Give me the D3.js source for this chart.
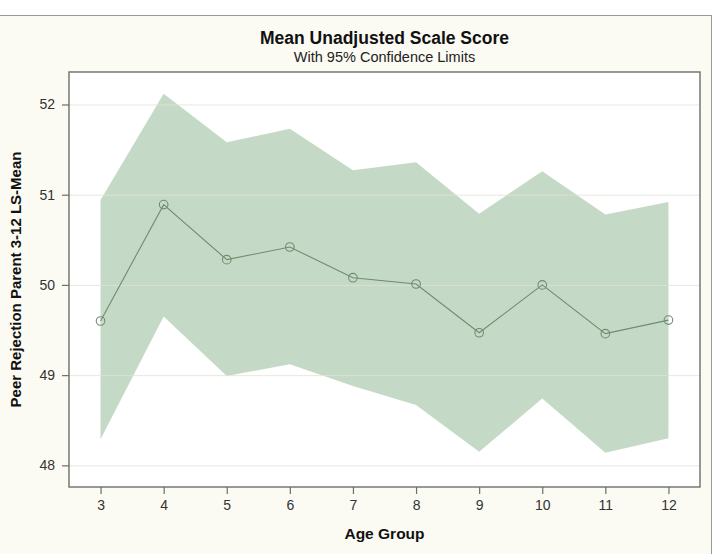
<!DOCTYPE html>
<html>
<head>
<meta charset="utf-8">
<script src="https://cdn.jsdelivr.net/npm/d3@7"></script>
<style>
  body { margin: 0; background: #fff; }
  svg text { font-family: "Liberation Sans", Arial, sans-serif; }
</style>
</head>
<body>
<svg id="chart" width="714" height="554"></svg>
<script>
// 年齢グループ
var ageGroups = [3, 4, 5, 6, 7, 8, 9, 10, 11, 12];
// LS平均値
var meanValues = [49.60, 50.89, 50.28, 50.42, 50.08, 50.01, 49.47, 50.00, 49.46, 49.61];
// 95%信頼区間 上限・下限
var upperValues = [50.94, 52.12, 51.58, 51.73, 51.27, 51.36, 50.79, 51.26, 50.78, 50.92];
var lowerValues = [48.29, 49.65, 48.99, 49.12, 48.88, 48.67, 48.15, 48.74, 48.14, 48.30];
var yTicks = [48, 49, 50, 51, 52];

var svg = d3.select("#chart");
var plot = { left: 69, right: 700, top: 72, bottom: 487 };

// 外枠
svg.append("rect")
  .attr("x", -1).attr("y", 15.5)
  .attr("width", 712.5).attr("height", 560)
  .attr("fill", "#fbfbf3")
  .attr("stroke", "#9a9a94");

svg.append("rect")
  .attr("x", plot.left).attr("y", plot.top)
  .attr("width", plot.right - plot.left).attr("height", plot.bottom - plot.top)
  .attr("fill", "#ffffff");

var xScale = d3.scaleLinear().domain([2.5, 12.5]).range([plot.left, plot.right]);
var yScale = d3.scaleLinear().domain([47.76, 52.36]).range([plot.bottom, plot.top]);

var rows = ageGroups.map((a, i) => ({
  age: a, mean: meanValues[i], upper: upperValues[i], lower: lowerValues[i]
}));

// 信頼区間の帯
var band = d3.area()
  .x((d) => xScale(d.age))
  .y0((d) => yScale(d.lower))
  .y1((d) => yScale(d.upper));
svg.append("path").datum(rows)
  .attr("d", band)
  .attr("fill", "#c5dac6");

// グリッド線
svg.append("g").selectAll("line")
  .data(yTicks).enter().append("line")
  .attr("x1", plot.left).attr("x2", plot.right)
  .attr("y1", (d) => yScale(d) + 0.5).attr("y2", (d) => yScale(d) + 0.5)
  .attr("stroke", "#e2e2d6").attr("stroke-opacity", 0.8);

// 平均値の線とマーカー
var line = d3.line().x((d) => xScale(d.age)).y((d) => yScale(d.mean));
svg.append("path").datum(rows)
  .attr("d", line)
  .attr("fill", "none")
  .attr("stroke", "#6e8c6e")
  .attr("stroke-width", 1.1);
svg.append("g").selectAll("circle")
  .data(rows).enter().append("circle")
  .attr("cx", (d) => xScale(d.age))
  .attr("cy", (d) => yScale(d.mean))
  .attr("r", 4.3)
  .attr("fill", "none")
  .attr("stroke", "#6e8c6e")
  .attr("stroke-width", 1.1);

// 軸
var xAxis = d3.axisBottom(xScale).tickValues(ageGroups).tickFormat(d3.format("d"))
  .tickSize(7).tickSizeOuter(0).tickPadding(6);
var yAxis = d3.axisLeft(yScale).tickValues(yTicks).tickFormat(d3.format("d"))
  .tickSize(7).tickSizeOuter(0).tickPadding(7);

var gx = svg.append("g").attr("transform", `translate(0,${plot.bottom})`).call(xAxis);
var gy = svg.append("g").attr("transform", `translate(${plot.left},0)`).call(yAxis);
[gx, gy].forEach((g) => {
  g.attr("font-size", null).attr("font-family", null);
  g.select(".domain").remove();
  g.selectAll(".tick line").attr("stroke", "#6e6e6a").attr("stroke-width", 1.2);
  g.selectAll(".tick text").attr("fill", "#333").style("font-size", "14px");
});

// プロット枠
svg.append("rect")
  .attr("x", plot.left).attr("y", plot.top)
  .attr("width", plot.right - plot.left).attr("height", plot.bottom - plot.top)
  .attr("fill", "none")
  .attr("stroke", "#6e6e6a")
  .attr("stroke-width", 1.4);

// タイトル
var cx = (plot.left + plot.right) / 2;
svg.append("text").attr("x", cx).attr("y", 44)
  .attr("text-anchor", "middle")
  .style("font-size", "17.5px").style("font-weight", "bold")
  .attr("fill", "#111")
  .text("Mean Unadjusted Scale Score");
svg.append("text").attr("x", cx).attr("y", 62)
  .attr("text-anchor", "middle")
  .style("font-size", "14.5px")
  .attr("fill", "#222")
  .text("With 95% Confidence Limits");

svg.append("text").attr("x", cx).attr("y", 539)
  .attr("text-anchor", "middle")
  .style("font-size", "15.5px").style("font-weight", "bold")
  .attr("fill", "#111")
  .text("Age Group");

svg.append("text")
  .attr("transform", `translate(21,${(plot.top + plot.bottom) / 2}) rotate(-90)`)
  .attr("text-anchor", "middle")
  .style("font-size", "15px").style("font-weight", "bold")
  .attr("fill", "#111")
  .text("Peer Rejection Parent 3-12 LS-Mean");
</script>
</body>
</html>
